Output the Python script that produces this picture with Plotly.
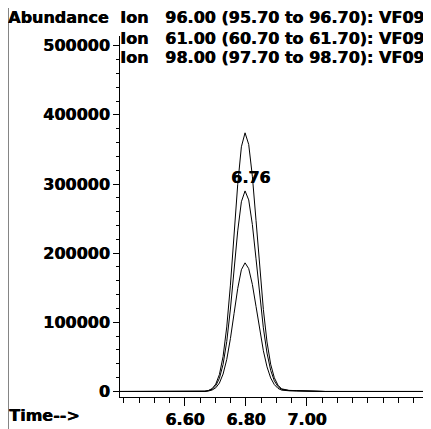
import plotly.graph_objects as go

# Retention time axis samples (min)
time_min = [6.387, 6.665, 6.677, 6.689, 6.701, 6.713, 6.725, 6.737, 6.749, 6.761, 6.773, 6.785,
            6.797, 6.809, 6.821, 6.833, 6.845, 6.857, 6.869, 6.881, 6.893, 6.905, 6.917,
            6.929, 6.941, 6.965, 7.001, 7.037, 7.060, 7.387]

# Ion 96.00 (tallest trace)
ion96 = [0, 0, 1440, 4150, 10700, 24600, 50600, 93300, 153700, 226800, 299500, 353800,
         374000, 357200, 311200, 247400, 179400, 118700, 71600, 39400, 19800, 9100, 3800,
         2300, 1600, 1200, 900, 500, 0, 0]

# Ion 61.00 (middle trace)
ion61 = [0, 0, 1100, 3200, 8300, 19100, 39200, 72300, 119200, 175900, 232200, 274300,
         290000, 277000, 241300, 191800, 139100, 92000, 55500, 30600, 15400, 7000, 3000,
         1800, 1300, 1000, 700, 400, 0, 0]

# Ion 98.00 (lowest trace)
ion98 = [0, 0, 700, 2100, 5300, 12200, 25200, 46400, 76400, 112800, 148900, 176000,
         186000, 177600, 154800, 123000, 89200, 59000, 35600, 19600, 9900, 4500, 1900,
         1300, 1000, 800, 600, 300, 0, 0]

series_names = ["Ion   96.00 (95.70 to 96.70): VF09",
                "Ion   61.00 (60.70 to 61.70): VF09",
                "Ion   98.00 (97.70 to 98.70): VF09"]
x_tick_vals = [6.6, 6.8, 7.0]
x_tick_text = ["6.60", "6.80", "7.00"]
peak_rt = 6.797
peak_label = "6.76"

FONT = dict(family="DejaVu Sans", size=16, color="black", weight="bold",
            shadow="0.5px 0 0 black")

fig = go.Figure()
for name, ys in zip(series_names, [ion96, ion61, ion98]):
    fig.add_trace(go.Scatter(x=time_min, y=ys, mode="lines", name=name,
                             line=dict(color="black", width=1), showlegend=False))

# page body adds an 8px offset; figure sized to fill the rest of the 431x429 window
OFF = 8
W, H = 431 - OFF, 429 - OFF
PL, PR, PT, PB = 120, 425, 36, 397          # plot area in page pixels
L, R, T, B = PL - OFF, W - (PR - OFF), PT - OFF, H - (PB - OFF)
pw, ph = PR - PL, PB - PT

def px(x):
    return (x - PL) / pw

def py(y):
    return (PB - y) / ph

annotations = [
    dict(text="Abundance", x=px(7), y=py(17), xanchor="left", yanchor="middle"),
    dict(text="Time-->", x=px(8), y=py(415), xanchor="left", yanchor="middle"),
]
for name, yy in zip(series_names, [17, 38.5, 57.5]):
    annotations.append(dict(text=name, x=px(119), y=py(yy), xanchor="left", yanchor="middle"))
for a in annotations:
    a.update(xref="paper", yref="paper", showarrow=False, font=FONT, borderpad=0)
annotations.append(dict(text=peak_label, x=peak_rt, y=310000, xref="x", yref="y",
                        xshift=5, showarrow=False, font=FONT, yanchor="middle"))

shapes = [
    dict(type="line", xref="paper", yref="paper", x0=px(8), x1=px(8), y0=py(440), y1=py(0),
         line=dict(color="#333", width=1.2)),
]

fig.update_layout(
    width=W, height=H,
    margin=dict(l=L, r=R, t=T, b=B, pad=0),
    paper_bgcolor="white", plot_bgcolor="white",
    annotations=annotations, shapes=shapes,
    xaxis=dict(range=[6.387, 7.387], tickmode="array", tickvals=x_tick_vals,
               ticktext=x_tick_text, automargin=False,
               showgrid=False, zeroline=False, showline=True, linecolor="black", linewidth=1,
               ticks="outside", ticklen=8, tickcolor="black", tickwidth=1,
               tickfont=FONT,
               minor=dict(tickmode="linear", dtick=0.05, tick0=6.6, ticks="outside",
                          ticklen=5, tickcolor="black", showgrid=False)),
    yaxis=dict(range=[-8000, 514000], tick0=0, dtick=100000, tickformat="d",
               automargin=False,
               showgrid=False, zeroline=False, showline=True, linecolor="black", linewidth=1,
               ticks="outside", ticklen=6, tickcolor="black", tickwidth=1,
               tickfont=FONT,
               minor=dict(dtick=20000, ticks="outside", ticklen=3,
                          tickcolor="black", showgrid=False)),
)

fig.write_html("out.html")
